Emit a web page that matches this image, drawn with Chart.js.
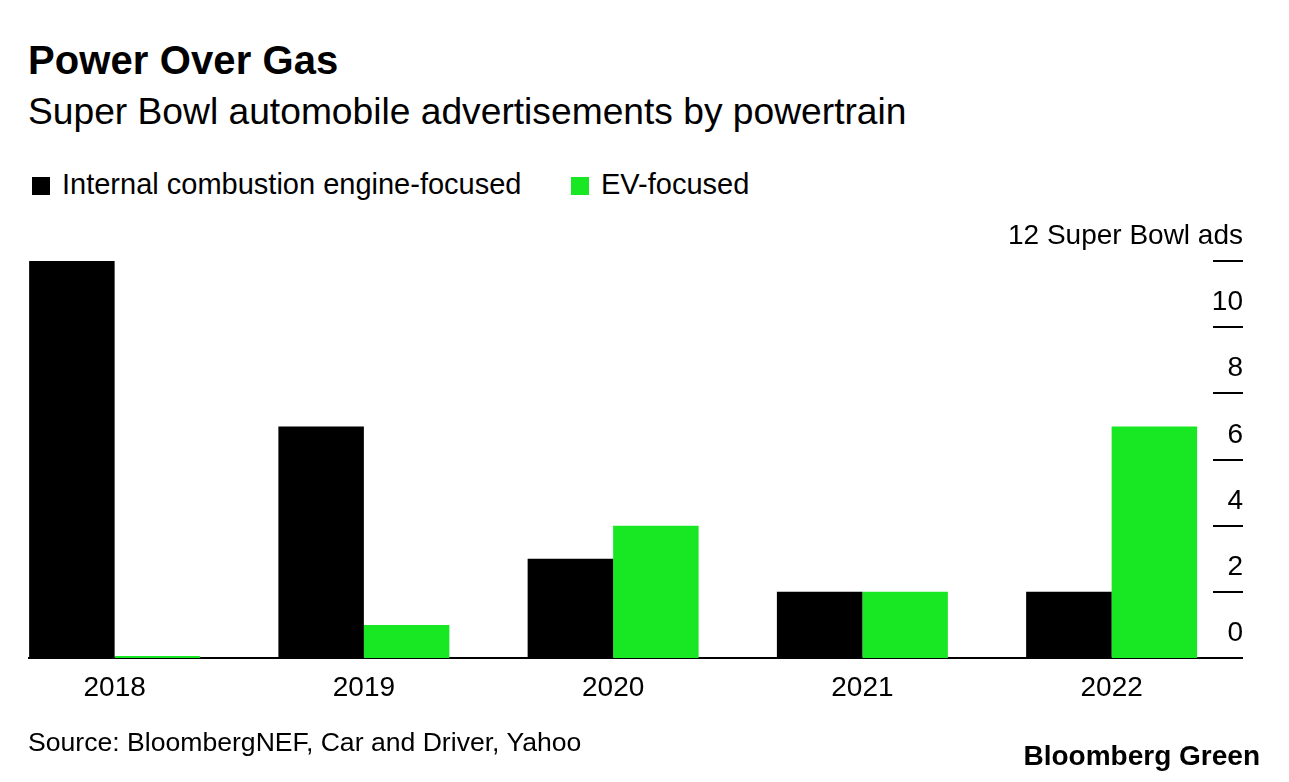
<!DOCTYPE html>
<html>
<head>
<meta charset="utf-8">
<script src="https://cdn.jsdelivr.net/npm/chart.js@4/dist/chart.umd.min.js"></script>
<style>
    html, body { margin: 0; padding: 0; background: #ffffff; }
    body { width: 1289px; height: 782px; position: relative; overflow: hidden;
           font-family: 'Liberation Sans', Arial, sans-serif; color: #000; }
    .txt { position: absolute; line-height: 1; white-space: nowrap; }
    #title { left: 28px; top: 40px; font-size: 40px; font-weight: bold; letter-spacing: 0.1px; }
    #subtitle { left: 28px; top: 93px; font-size: 37.2px; }
    .legend { top: 170px; font-size: 29px; }
    .swatch { position: absolute; top: 177px; width: 18px; height: 18px; }
    #source { left: 28px; top: 729px; font-size: 26.6px; }
    #brand { right: 29px; top: 742px; font-size: 28px; font-weight: bold; letter-spacing: 0px; }
    #wrap { position: absolute; left: -10px; top: 0; width: 1299px; height: 782px; }
</style>
</head>
<body>
<div id="title" class="txt">Power Over Gas</div>
<div id="subtitle" class="txt">Super Bowl automobile advertisements by powertrain</div>
<div class="swatch" style="left:32px;background:#000000"></div>
<div class="txt legend" style="left:62px">Internal combustion engine-focused</div>
<div class="swatch" style="left:571px;background:#18e823"></div>
<div class="txt legend" style="left:601px">EV-focused</div>
<div id="wrap"><canvas id="chart"></canvas></div>
<div id="source" class="txt">Source: BloombergNEF, Car and Driver, Yahoo</div>
<div id="brand" class="txt">Bloomberg Green</div>
<script>
// 데이터
const years = ['2018', '2019', '2020', '2021', '2022'];
const iceAds = [12, 7, 3, 2, 2];
const evAds = [0, 1, 4, 2, 7];
const yTicks = [0, 2, 4, 6, 8, 10, 12];
const yTickLabels = ['0', '2', '4', '6', '8', '10', '12 Super Bowl ads'];

const ICE_COLOR = '#000000';
const EV_COLOR = '#18e823';
const OFFSET = 10; // canvas starts 10px left of the page

// 축, 기준선, 라벨 그리기
const axisPlugin = {
    id: 'bbgAxis',
    beforeDatasetsDraw(chart) {
        const ctx = chart.ctx;
        const y = chart.scales.y;
        const y0 = y.getPixelForValue(0);
        ctx.save();
        ctx.strokeStyle = '#000';
        ctx.lineWidth = 2;
        ctx.beginPath();
        ctx.moveTo(28 + OFFSET, y0);
        ctx.lineTo(1243 + OFFSET, y0);
        ctx.stroke();
        ctx.restore();
    },
    afterDraw(chart) {
        const ctx = chart.ctx;
        const x = chart.scales.x;
        const y = chart.scales.y;
        ctx.save();
        ctx.strokeStyle = '#000';
        ctx.fillStyle = '#000';
        ctx.lineWidth = 2;
        ctx.font = '28px "Liberation Sans", Arial, sans-serif';
        ctx.textAlign = 'right';
        ctx.textBaseline = 'alphabetic';
        yTicks.forEach((v, i) => {
            const py = Math.round(y.getPixelForValue(v));
            if (v !== 0) {
                ctx.beginPath();
                ctx.moveTo(1213 + OFFSET, py);
                ctx.lineTo(1243 + OFFSET, py);
                ctx.stroke();
            }
            ctx.fillText(yTickLabels[i], 1243 + OFFSET, py - 17);
        });
        ctx.textAlign = 'center';
        years.forEach((label, i) => {
            ctx.fillText(label, x.getPixelForTick(i), 696);
        });
        ctx.restore();
    }
};

const ctx = document.getElementById('chart').getContext('2d');
new Chart(ctx, {
    type: 'bar',
    data: {
        labels: years,
        datasets: [
            {
                label: 'Internal combustion engine-focused',
                data: iceAds,
                backgroundColor: ICE_COLOR,
                borderWidth: 0
            },
            {
                label: 'EV-focused',
                data: evAds,
                backgroundColor: EV_COLOR,
                borderWidth: 0,
                minBarLength: 2
            }
        ]
    },
    options: {
        responsive: true,
        maintainAspectRatio: false,
        animation: false,
        layout: {
            padding: { left: 0, right: 52.75, top: 261, bottom: 124 }
        },
        datasets: {
            bar: { categoryPercentage: 0.686, barPercentage: 1.0 }
        },
        plugins: {
            legend: { display: false },
            tooltip: { enabled: false }
        },
        scales: {
            x: { display: false },
            y: { display: false, min: 0, max: 12 }
        }
    },
    plugins: [axisPlugin]
});
</script>
</body>
</html>
